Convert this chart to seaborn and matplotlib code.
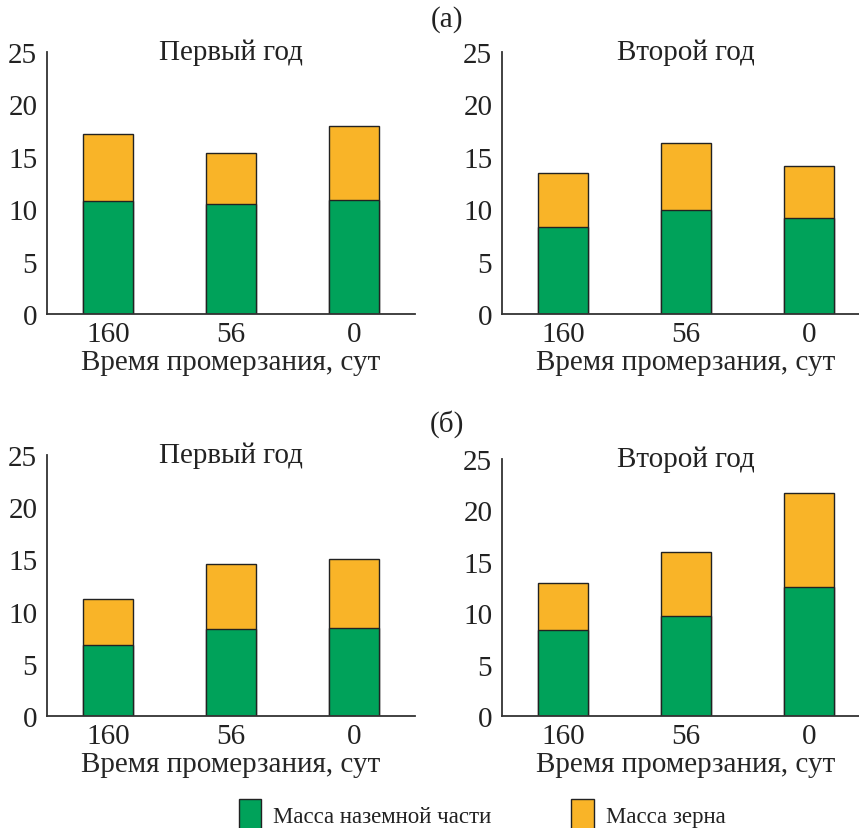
import matplotlib
matplotlib.use("Agg")
import matplotlib.pyplot as plt
from matplotlib.patches import Patch
import seaborn as sns
import pandas as pd

# ---- data ----
categories = ["160", "56", "0"]
panel_titles = ["Первый год", "Второй год", "Первый год", "Второй год"]
# (a) first year / second year, (б) first year / second year
green_a1 = [10.75, 10.5, 10.85]
total_a1 = [17.15, 15.35, 17.95]
green_a2 = [8.3, 9.95, 9.2]
total_a2 = [13.5, 16.3, 14.15]
green_b1 = [6.8, 8.35, 8.45]
total_b1 = [11.25, 14.55, 15.05]
green_b2 = [8.35, 9.75, 12.55]
total_b2 = [12.95, 15.95, 21.7]
series_labels = ["Масса наземной части", "Масса зерна"]
xlabel = "Время промерзания, сут"
yticks = [0, 5, 10, 15, 20, 25]

GREEN = "#00A25A"
ORANGE = "#F9B428"
EDGE = "#222222"

sns.set_style("white")
plt.rcParams["font.family"] = ["Liberation Serif", "DejaVu Serif"]
plt.rcParams["axes.edgecolor"] = "#333333"
plt.rcParams["text.color"] = "#222222"
plt.rcParams["xtick.color"] = "#222222"
plt.rcParams["ytick.color"] = "#222222"

W, H = 859, 829
fig = plt.figure(figsize=(W / 100, H / 100), dpi=100)

def rect(l, r, top, bottom):
    return [l / W, 1 - bottom / H, (r - l) / W, (bottom - top) / H]

positions = [
    rect(47, 415, 53, 315),
    rect(502, 870, 53, 315),
    rect(47, 415, 456, 717),
    rect(502, 870, 460, 717),
]
greens = [green_a1, green_a2, green_b1, green_b2]
totals = [total_a1, total_a2, total_b1, total_b2]

FS = 21

for pos, g, t, title in zip(positions, greens, totals, panel_titles):
    ax = fig.add_axes(pos)
    df = pd.DataFrame({"cat": categories, "green": g, "total": t})
    sns.barplot(data=df, x="cat", y="total", order=categories, color=ORANGE,
                saturation=1, width=0.41, edgecolor=EDGE, linewidth=1.0, ax=ax)
    sns.barplot(data=df, x="cat", y="green", order=categories, color=GREEN,
                saturation=1, width=0.41, edgecolor=EDGE, linewidth=1.0, ax=ax)
    ax.set_xlim(-0.5, 2.5)
    ax.set_ylim(0, 25)
    ax.set_yticks(yticks)
    ax.set_yticklabels([str(v) for v in yticks])
    for s in ["top", "right"]:
        ax.spines[s].set_visible(False)
    for s in ["left", "bottom"]:
        ax.spines[s].set_linewidth(1.3)
    ax.tick_params(axis="y", direction="in", length=5, width=1.2, pad=7, labelsize=FS)
    ax.tick_params(axis="x", length=0, pad=5, labelsize=FS)
    ax.set_ylabel("")
    ax.set_xlabel(xlabel, fontsize=FS, labelpad=1.5)
    ax.text(1, 25, title, ha="center", va="center", fontsize=FS)

fig.text(447 / W, 1 - 20 / H, "(a)", ha="center", va="center", fontsize=FS)
fig.text(447 / W, 1 - 424 / H, "(б)", ha="center", va="center", fontsize=FS)

handles = [Patch(facecolor=GREEN, edgecolor=EDGE, linewidth=1.0),
           Patch(facecolor=ORANGE, edgecolor=EDGE, linewidth=1.0)]
fig.legend(handles, series_labels, loc="center", bbox_to_anchor=(482 / W, 1 - 815 / H),
           ncol=2, frameon=False, fontsize=16.5, handlelength=1.0, handleheight=1.6,
           handletextpad=0.5, columnspacing=3.5, borderpad=0.2)

fig.savefig("out.png", dpi=100)
